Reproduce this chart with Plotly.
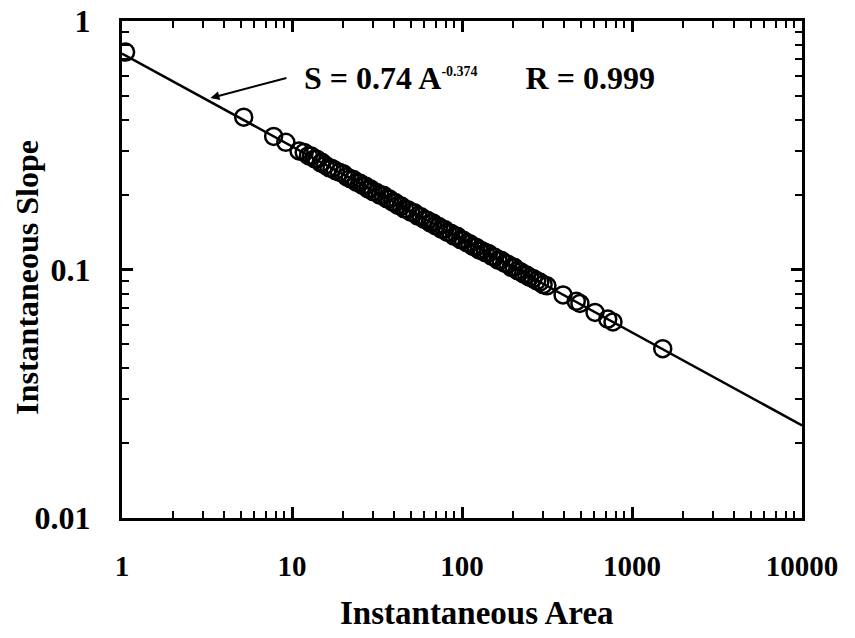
import plotly.graph_objects as go

# Observed data (Instantaneous Area, Instantaneous Slope)
area = [1.05, 5.2, 7.8, 9.2,
        11, 11.8, 12.5, 13, 13.6, 14, 14.8, 15, 15.7, 16.5, 17.2, 18, 19, 20, 21,
        22, 23, 24, 25, 26, 27, 28, 29, 30, 31.5, 33, 34.5, 36, 37.5, 39, 40.5,
        42, 44, 46, 48, 50, 52.5, 55, 57.5, 60, 62.5, 65, 67.5, 70, 73, 76, 79,
        82, 86, 90, 94, 98, 102, 107, 111, 116, 121, 126, 131, 137, 143, 150,
        156, 163, 170, 178, 186, 195, 203, 212, 221, 230, 240, 250, 262, 275,
        287, 300, 316, 393, 470, 494, 606, 720, 773, 1516]
slope = [0.75, 0.41, 0.343, 0.325,
         0.300, 0.296, 0.287, 0.286, 0.279, 0.278, 0.268, 0.270, 0.263, 0.257,
         0.255, 0.250, 0.246, 0.243, 0.236, 0.232, 0.230, 0.224, 0.223, 0.218,
         0.217, 0.211, 0.211, 0.206, 0.204, 0.199, 0.199, 0.193, 0.192, 0.187,
         0.186, 0.181, 0.180, 0.175, 0.174, 0.170, 0.169, 0.164, 0.163, 0.159,
         0.158, 0.154, 0.154, 0.150, 0.149, 0.145, 0.145, 0.141, 0.140, 0.136,
         0.136, 0.132, 0.131, 0.128, 0.127, 0.124, 0.123, 0.120, 0.119, 0.117,
         0.116, 0.113, 0.112, 0.109, 0.109, 0.106, 0.105, 0.102, 0.102, 0.099,
         0.098, 0.096, 0.095, 0.093, 0.092, 0.090, 0.089, 0.087, 0.086, 0.079,
         0.0745, 0.073, 0.0672, 0.0632, 0.0615, 0.048]

# Fitted power law S = 0.74 A^-0.374 (end points)
fit_area = [1, 10000]
fit_slope = [0.74, 0.0236]

x_ticks = [1, 10, 100, 1000, 10000]
x_labels = ["1", "10", "100", "1000", "10000"]
y_ticks = [0.01, 0.1, 1]
y_labels = ["0.01", "0.1", "1"]
x_minor = [m * d for d in (1, 10, 100, 1000) for m in range(2, 10)]
y_minor = [m * d for d in (0.01, 0.1) for m in range(2, 10)]

FONT = "Liberation Serif"

fig = go.Figure()
fig.add_trace(go.Scatter(x=fit_area, y=fit_slope, mode="lines",
                         line=dict(color="black", width=2.5), showlegend=False,
                         hoverinfo="skip"))
fig.add_trace(go.Scatter(x=area, y=slope, mode="markers",
                         marker=dict(symbol="circle-open", size=17, color="black",
                                     line=dict(color="black", width=2.5)),
                         showlegend=False))

major = dict(
    type="log", showgrid=False, zeroline=False, automargin=False,
    showline=True, linecolor="black", linewidth=3, mirror="ticks",
    ticks="inside", ticklen=11, tickwidth=2.5, tickcolor="black",
)

fig.update_layout(
    xaxis=dict(**major, range=[0, 4], tickvals=x_ticks, ticktext=x_labels,
               minor=dict(tickmode="array", tickvals=x_minor, ticks="inside",
                          ticklen=7, tickwidth=2, tickcolor="black", showgrid=False),
               ticklabelstandoff=20,
               tickfont=dict(family=FONT, size=29, color="black", weight="bold")),
    yaxis=dict(**major, range=[-2, 0], tickvals=y_ticks, ticktext=y_labels,
               minor=dict(tickmode="array", tickvals=y_minor, ticks="inside",
                          ticklen=7, tickwidth=2, tickcolor="black", showgrid=False),
               ticklabelstandoff=22,
               tickfont=dict(family=FONT, size=32, color="black", weight="bold")),
)

# axis titles
fig.add_annotation(xref="paper", yref="paper", x=0.522, y=-0.191,
                   xanchor="center", yanchor="middle", showarrow=False,
                   text="Instantaneous Area",
                   font=dict(family=FONT, size=33, color="black", weight="bold"))
fig.add_annotation(xref="paper", yref="paper", x=-0.14, y=0.485,
                   xanchor="center", yanchor="middle", showarrow=False,
                   textangle=-90, text="Instantaneous Slope",
                   font=dict(family=FONT, size=32, color="black", weight="bold"))

# equation with arrow pointing to the fit line
fig.add_annotation(
    x=0.52, y=-0.31, xref="x", yref="y",
    text="&nbsp;&nbsp;S = 0.74 A<sup><span style='font-size:14px'>-0.374</span></sup>"
         "&nbsp;&nbsp;&nbsp;&nbsp;&nbsp; R = 0.999",
    xanchor="left", yanchor="middle",
    showarrow=True, arrowhead=2, arrowsize=0.9, arrowwidth=2,
    arrowcolor="black", ax=76, ay=-20, standoff=0,
    font=dict(family=FONT, size=32, color="black", weight="bold"))

fig.update_layout(
    width=855, height=638,
    margin=dict(l=122, r=53, t=21, b=120),
    paper_bgcolor="white", plot_bgcolor="white",
    font=dict(family=FONT, color="black"),
)

fig.write_html("out.html", config={"displayModeBar": False},
               post_script="document.body.style.margin='0';")
